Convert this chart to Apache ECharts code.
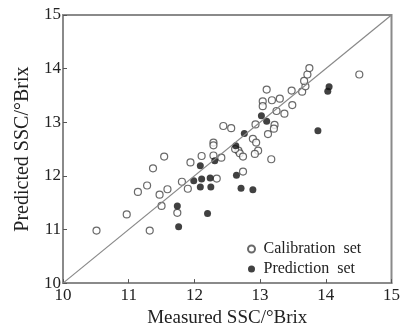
<!DOCTYPE html>
<html>
<head>
<meta charset="utf-8">
<script src="https://cdn.jsdelivr.net/npm/echarts@6/dist/echarts.min.js"></script>
<style>
  html, body { margin: 0; padding: 0; background: #fff; }
  #chart { width: 403px; height: 333px; }
</style>
</head>
<body>
<div id="chart"></div>
<script>
// measured vs predicted SSC (°Brix)
var calibration = [
  [10.51, 10.98], [10.97, 11.28], [11.32, 10.98], [11.14, 11.70], [11.28, 11.82],
  [11.37, 12.14], [11.54, 12.36], [11.47, 11.65], [11.59, 11.75], [11.50, 11.44],
  [11.74, 11.31], [11.81, 11.89], [11.90, 11.76], [11.94, 12.25], [12.11, 12.37],
  [12.29, 12.38], [12.29, 12.62], [12.29, 12.57], [12.34, 11.95], [12.41, 12.34],
  [12.44, 12.93], [12.56, 12.89], [12.67, 12.47], [12.69, 12.42], [12.62, 12.50],
  [12.74, 12.36], [12.74, 12.08], [12.89, 12.69], [12.94, 12.62], [12.97, 12.47],
  [12.92, 12.41], [12.93, 12.96], [13.17, 12.31], [13.12, 12.78], [13.22, 12.95],
  [13.21, 12.88], [13.25, 13.21], [13.37, 13.16], [13.04, 13.39], [13.04, 13.30],
  [13.18, 13.41], [13.30, 13.44], [13.49, 13.32], [13.10, 13.61], [13.48, 13.59],
  [13.64, 13.57], [13.69, 13.67], [13.67, 13.77], [13.72, 13.89], [13.75, 14.01],
  [14.51, 13.89]
];
var prediction = [
  [11.74, 11.44], [11.76, 11.05], [11.99, 11.91], [12.09, 12.19], [12.11, 11.94],
  [12.09, 11.79], [12.24, 11.96], [12.25, 11.79], [12.20, 11.30], [12.31, 12.28],
  [12.63, 12.56], [12.64, 12.01], [12.71, 11.77], [12.89, 11.74], [12.76, 12.79],
  [13.02, 13.12], [13.10, 13.02], [13.88, 12.84], [14.05, 13.66], [14.03, 13.58]
];
var diagonal = [[10, 10], [15, 15]];
var axisMin = 10, axisMax = 15;

var font = '"Liberation Serif", "Times New Roman", serif';
var chart = echarts.init(document.getElementById('chart'));

chart.setOption({
  backgroundColor: '#fff',
  animation: false,
  textStyle: { fontFamily: font },
  grid: {
    left: 63, right: 8, top: 15, bottom: 48,
    show: true, borderColor: '#8a8a8a', borderWidth: 2
  },
  legend: {
    orient: 'vertical',
    left: 242, top: 236,
    itemWidth: 14, itemHeight: 7, itemGap: 4,
    textStyle: { fontFamily: font, fontSize: 16, color: '#222' },
    data: ['Calibration  set', 'Prediction  set']
  },
  xAxis: {
    type: 'value', min: axisMin, max: axisMax, interval: 1,
    name: 'Measured SSC/°Brix', nameLocation: 'middle', nameGap: 23,
    nameTextStyle: { fontFamily: font, fontSize: 19, color: '#222' },
    axisLine: { lineStyle: { color: '#8a8a8a', width: 2 } },
    axisTick: { inside: true, length: 4, lineStyle: { color: '#555' } },
    axisLabel: { fontFamily: font, fontSize: 17, color: '#222', margin: 4 },
    splitLine: { show: false }
  },
  yAxis: {
    type: 'value', min: axisMin, max: axisMax, interval: 1,
    name: 'Predicted SSC/°Brix', nameLocation: 'middle', nameGap: 29,
    nameTextStyle: { fontFamily: font, fontSize: 20, color: '#222' },
    axisLine: { lineStyle: { color: '#8a8a8a', width: 2 } },
    axisTick: { inside: true, length: 4, lineStyle: { color: '#555' } },
    axisLabel: { fontFamily: font, fontSize: 17, color: '#222', margin: 2 },
    splitLine: { show: false }
  },
  series: [
    {
      type: 'line', data: diagonal, symbol: 'none', silent: true,
      lineStyle: { color: '#888', width: 1.2 }
    },
    {
      name: 'Calibration  set', type: 'scatter', data: calibration,
      symbol: 'circle', symbolSize: 7,
      itemStyle: { color: '#fff', borderColor: '#444', borderWidth: 1.2 }
    },
    {
      name: 'Prediction  set', type: 'scatter', data: prediction,
      symbol: 'circle', symbolSize: 7,
      itemStyle: { color: '#111' }
    }
  ]
});
</script>
</body>
</html>
